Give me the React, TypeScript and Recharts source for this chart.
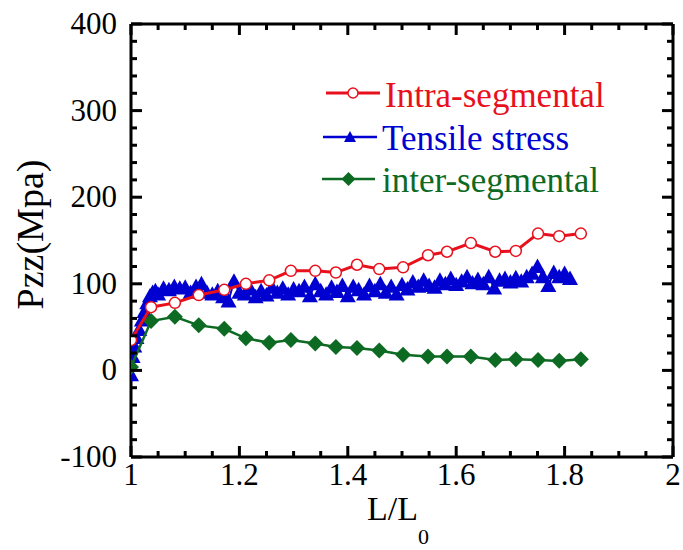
import { ScatterChart, Scatter, XAxis, YAxis, Label, ReferenceLine } from 'recharts'

// Intra-segmental (red open circles)
const intraX = [1.0, 1.037, 1.081, 1.125, 1.172, 1.212, 1.255, 1.295, 1.34, 1.378, 1.417, 1.458, 1.502, 1.548, 1.583, 1.627, 1.672, 1.71, 1.751, 1.79, 1.83]
const intraY = [35, 73, 78, 87, 93, 100, 104, 115, 115, 113, 122, 117, 119, 133, 137, 147, 137, 138, 158, 155, 158]

// inter-segmental (green diamonds)
const interX = [1.0, 1.037, 1.081, 1.125, 1.172, 1.212, 1.255, 1.295, 1.34, 1.378, 1.417, 1.458, 1.502, 1.548, 1.583, 1.627, 1.672, 1.71, 1.751, 1.79, 1.83]
const interY = [4, 57, 62, 52, 48, 37, 32, 35, 31, 27, 26, 23, 18, 16, 16, 16, 12, 13, 12, 11, 13]

// Tensile stress (blue triangles)
const tensileX = [
  1.0, 1.003, 1.006, 1.01, 1.015, 1.02, 1.025, 1.03, 1.035, 1.04, 1.045,
  1.05, 1.06, 1.07, 1.08, 1.09, 1.1, 1.11, 1.12, 1.13, 1.14, 1.15, 1.16, 1.17, 1.18, 1.19,
  1.2, 1.21, 1.22, 1.23, 1.24, 1.25, 1.26, 1.27, 1.28, 1.29, 1.3, 1.31, 1.32, 1.33, 1.34,
  1.35, 1.36, 1.37, 1.38, 1.39, 1.4, 1.41, 1.42, 1.43, 1.44, 1.45, 1.46, 1.47, 1.48, 1.49,
  1.5, 1.51, 1.52, 1.53, 1.54, 1.55, 1.56, 1.57, 1.58, 1.59, 1.6, 1.61, 1.62, 1.63, 1.64,
  1.65, 1.66, 1.67, 1.68, 1.69, 1.7, 1.71, 1.72, 1.73, 1.74, 1.75, 1.76, 1.77, 1.78, 1.79,
  1.8, 1.81,
]
const tensileY = [
  -5, 16, 28, 38, 47, 58, 68, 78, 86, 90, 92,
  88, 95, 93, 97, 95, 96, 90, 97, 100, 90, 88, 92, 85, 80, 103,
  90, 88, 94, 85, 92, 87, 96, 90, 95, 88, 94, 92, 97, 86, 100,
  92, 88, 96, 91, 98, 86, 97, 93, 88, 98, 92, 100, 90, 97, 88,
  99, 94, 102, 97, 104, 98, 96, 104, 100, 106, 99, 103, 108, 101, 105,
  100, 108, 95, 104, 106, 102, 107, 103, 108, 112, 120, 108, 98, 113, 108,
  112, 106,
]

const xMajor = [1, 1.2, 1.4, 1.6, 1.8, 2]
const xMinor = [1.05, 1.1, 1.15, 1.25, 1.3, 1.35, 1.45, 1.5, 1.55, 1.65, 1.7, 1.75, 1.85, 1.9, 1.95]
const yMajor = [-100, 0, 100, 200, 300, 400]
const yMinor = [-80, -60, -40, -20, 20, 40, 60, 80, 120, 140, 160, 180, 220, 240, 260, 280, 320, 340, 360, 380]

const X_DOMAIN = [1, 2]
const Y_DOMAIN = [-100, 400]

const RED = '#e8101c'
const BLUE = '#0000d0'
const GREEN = '#0d6a22'
const FONT = 'Liberation Serif'

// plot box: margin.top 24, YAxis width 131, XAxis height 93, margin.right 10
const PLOT_L = 131
const PLOT_T = 24
const PLOT_W = 542
const PLOT_H = 433
const MAJOR_LEN = 11
const MINOR_LEN = 6

const px = (v: number) => PLOT_L + ((v - X_DOMAIN[0]) / (X_DOMAIN[1] - X_DOMAIN[0])) * PLOT_W
const py = (v: number) => PLOT_T + PLOT_H - ((v - Y_DOMAIN[0]) / (Y_DOMAIN[1] - Y_DOMAIN[0])) * PLOT_H

const toPoints = (xs: number[], ys: number[]) => xs.map((x, i) => ({ x, y: ys[i] }))
const intraData = toPoints(intraX, intraY)
const interData = toPoints(interX, interY)
const tensileData = toPoints(tensileX, tensileY)

const XTick = (props: any) => {
  const { x, y, payload } = props
  return (
    <text x={x} y={y + 24} textAnchor="middle" fontSize={31} fill="#000" fontFamily={FONT}>
      {String(payload.value)}
    </text>
  )
}

const YTick = (props: any) => {
  const { x, y, payload } = props
  return (
    <text x={x} y={y + 10} textAnchor="end" fontSize={31} fill="#000" fontFamily={FONT}>
      {String(payload.value)}
    </text>
  )
}

const CircleDot = (props: any) => (
  <circle cx={props.cx} cy={props.cy} r={5.5} fill="#fff" stroke={RED} strokeWidth={1.5} />
)

const TriangleDot = (props: any) => {
  const { cx, cy } = props
  const s = 8
  return <polygon points={`${cx},${cy - s} ${cx + s},${cy + s * 0.8} ${cx - s},${cy + s * 0.8}`} fill={BLUE} />
}

const DiamondDot = (props: any) => {
  const { cx, cy } = props
  const s = 8
  return <polygon points={`${cx},${cy - s} ${cx + s},${cy} ${cx},${cy + s} ${cx - s},${cy}`} fill={GREEN} />
}

const YTitle = (props: any) => {
  const vb = props.viewBox || { x: 0, y: 24, width: 131, height: 433 }
  const x = vb.x + 30
  const y = vb.y + vb.height / 2 - 6
  return (
    <text x={x} y={y} transform={`rotate(-90 ${x} ${y})`} textAnchor="middle" dominantBaseline="central" fontSize={38} fill="#000" fontFamily={FONT}>
      Pzz(Mpa)
    </text>
  )
}

const XTitle = (props: any) => {
  const vb = props.viewBox || { x: 131, y: 457, width: 542, height: 93 }
  const x = vb.x + vb.width / 2 - 4
  return (
    <text x={x} y={vb.y + 63} textAnchor="middle" fontSize={34} fill="#000" fontFamily={FONT}>
      <tspan>L/L</tspan>
      <tspan dy={24} fontSize={22}>0</tspan>
    </text>
  )
}

const axisLine = { stroke: '#000', strokeWidth: 3 }

const legendRows = [
  { label: 'Intra-segmental', color: RED, y: 93, x0: 326, x1: 380, tx: 385, ty: 107 },
  { label: 'Tensile stress', color: BLUE, y: 137, x0: 323, x1: 377, tx: 382, ty: 150 },
  { label: 'inter-segmental', color: GREEN, y: 179, x0: 322, x1: 375, tx: 382, ty: 192 },
]

// inward tick marks on all four sides of the frame
const FrameTicks = () => {
  const bottom = PLOT_T + PLOT_H
  const right = PLOT_L + PLOT_W
  const xs = [...xMajor.map((v) => [v, MAJOR_LEN]), ...xMinor.map((v) => [v, MINOR_LEN])]
  const ys = [...yMajor.map((v) => [v, MAJOR_LEN]), ...yMinor.map((v) => [v, MINOR_LEN])]
  return (
    <g stroke="#000" strokeWidth={3}>
      {xs.map(([v, len]) => (
        <g key={`x${v}`}>
          <line x1={px(v)} y1={bottom} x2={px(v)} y2={bottom - len} />
          <line x1={px(v)} y1={PLOT_T} x2={px(v)} y2={PLOT_T + len} />
        </g>
      ))}
      {ys.map(([v, len]) => (
        <g key={`y${v}`}>
          <line x1={PLOT_L} y1={py(v)} x2={PLOT_L + len} y2={py(v)} />
          <line x1={right} y1={py(v)} x2={right - len} y2={py(v)} />
        </g>
      ))}
    </g>
  )
}

export default function App() {
  return (
    <div style={{ position: 'absolute', left: 0, top: 0, width: 683, height: 550, background: '#fff', fontFamily: FONT }}>
      <ScatterChart width={683} height={550} margin={{ top: 24, right: 10, left: 0, bottom: 0 }}>
        <XAxis xAxisId="main" type="number" dataKey="x" domain={X_DOMAIN} ticks={xMajor} interval={0}
          height={93} axisLine={axisLine} tickLine={false} tickSize={0} tickMargin={4} tick={XTick} allowDataOverflow>
          <Label content={XTitle} />
        </XAxis>
        <YAxis yAxisId="main" type="number" dataKey="y" domain={Y_DOMAIN} ticks={yMajor} interval={0}
          width={131} axisLine={axisLine} tickLine={false} tickSize={0} tickMargin={14} tick={YTick} allowDataOverflow>
          <Label content={YTitle} />
        </YAxis>

        <ReferenceLine xAxisId="main" yAxisId="main" y={Y_DOMAIN[1]} stroke="#000" strokeWidth={3} ifOverflow="visible" />
        <ReferenceLine xAxisId="main" yAxisId="main" x={X_DOMAIN[1]} stroke="#000" strokeWidth={3} ifOverflow="visible" />

        <Scatter name="Tensile stress" data={tensileData} xAxisId="main" yAxisId="main" fill={BLUE}
          line={{ stroke: BLUE, strokeWidth: 2 }} shape={TriangleDot} isAnimationActive={false} />
        <Scatter name="inter-segmental" data={interData} xAxisId="main" yAxisId="main" fill={GREEN}
          line={{ stroke: GREEN, strokeWidth: 2.5 }} shape={DiamondDot} isAnimationActive={false} />
        <Scatter name="Intra-segmental" data={intraData} xAxisId="main" yAxisId="main" fill={RED}
          line={{ stroke: RED, strokeWidth: 3 }} shape={CircleDot} isAnimationActive={false} />
      </ScatterChart>

      <svg width={683} height={550} style={{ position: 'absolute', left: 0, top: 0, pointerEvents: 'none' }}>
        <FrameTicks />
        {legendRows.map((r, i) => {
          const mx = (r.x0 + r.x1) / 2
          return (
            <g key={r.label}>
              <line x1={r.x0} y1={r.y} x2={r.x1} y2={r.y} stroke={r.color} strokeWidth={i === 0 ? 3 : 2.5} />
              {i === 0 && <circle cx={mx} cy={r.y} r={5} fill="#fff" stroke={RED} strokeWidth={1.5} />}
              {i === 1 && <polygon points={`${mx},${r.y - 6} ${mx + 6},${r.y + 5} ${mx - 6},${r.y + 5}`} fill={BLUE} />}
              {i === 2 && <polygon points={`${mx},${r.y - 7} ${mx + 7},${r.y} ${mx},${r.y + 7} ${mx - 7},${r.y}`} fill={GREEN} />}
              <text x={r.tx} y={r.ty} fontSize={35} fill={r.color} fontFamily={FONT}>{r.label}</text>
            </g>
          )
        })}
      </svg>
    </div>
  )
}
